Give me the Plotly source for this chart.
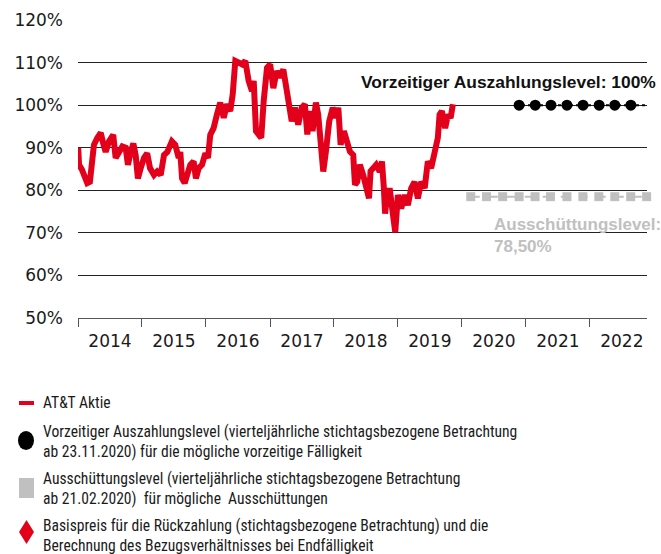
import plotly.graph_objects as go

# ---------------- data ----------------
stock_dates = [
    "2014-01-02", "2014-01-07", "2014-01-24", "2014-02-14", "2014-02-23", "2014-03-10", "2014-03-24",
    "2014-04-02", "2014-04-21", "2014-05-11", "2014-05-25", "2014-06-08", "2014-06-27", "2014-07-21",
    "2014-08-04", "2014-08-23", "2014-09-11", "2014-09-30", "2014-10-13", "2014-10-29", "2014-11-13",
    "2014-11-26", "2014-12-09", "2014-12-25", "2015-01-13", "2015-01-31", "2015-02-16", "2015-03-11",
    "2015-03-29", "2015-04-18", "2015-05-07", "2015-05-26", "2015-06-21", "2015-07-10", "2015-07-30",
    "2015-08-08", "2015-08-18", "2015-09-02", "2015-09-15", "2015-10-04", "2015-10-23", "2015-11-05",
    "2015-11-21", "2015-12-10", "2015-12-29", "2016-01-13", "2016-01-26", "2016-02-14", "2016-03-04",
    "2016-03-23", "2016-04-12", "2016-04-30", "2016-05-19", "2016-06-02", "2016-06-17", "2016-07-06",
    "2016-07-25", "2016-08-13", "2016-09-01", "2016-09-20", "2016-09-30", "2016-10-13", "2016-11-01",
    "2016-11-12", "2016-11-26", "2016-12-15", "2017-01-02", "2017-01-20", "2017-02-08", "2017-02-27",
    "2017-03-18", "2017-04-06", "2017-04-25", "2017-05-05", "2017-05-23", "2017-06-11", "2017-07-01",
    "2017-07-19", "2017-08-02", "2017-08-17", "2017-09-01", "2017-09-20", "2017-10-03", "2017-10-17",
    "2017-11-01", "2017-11-16", "2017-12-05", "2017-12-25", "2018-01-12", "2018-01-26", "2018-02-08",
    "2018-02-27", "2018-03-18", "2018-04-02", "2018-04-21", "2018-05-01", "2018-05-14", "2018-05-29",
    "2018-06-17", "2018-07-07", "2018-07-20", "2018-07-29", "2018-08-12", "2018-08-30", "2018-09-19",
    "2018-10-02", "2018-10-13", "2018-10-20", "2018-10-27", "2018-11-15", "2018-12-04", "2018-12-17",
    "2019-01-01", "2019-01-20", "2019-02-08", "2019-02-27", "2019-03-18", "2019-04-06", "2019-04-25",
    "2019-05-14", "2019-06-03", "2019-06-21", "2019-07-10", "2019-07-29", "2019-08-17", "2019-08-27",
    "2019-09-09", "2019-09-28", "2019-10-14", "2019-10-29", "2019-11-11",
]
stock_values = [
    90.0, 86.0, 84.8, 82.5, 81.7, 82.0, 87.6,
    90.7, 92.3, 93.5, 91.0, 89.0, 91.5, 93.0,
    87.6, 89.0, 90.3, 90.0, 86.0, 89.0, 91.0,
    88.3, 82.8, 85.2, 87.6, 88.7, 85.2, 83.6,
    84.4, 83.6, 88.3, 89.0, 91.5, 90.7, 87.6,
    89.0, 82.8, 81.7, 83.6, 86.0, 86.8, 82.8,
    85.2, 86.0, 88.7, 87.6, 93.0, 94.6, 97.8,
    100.6, 97.0, 100.2, 98.6, 102.5, 110.4, 110.0,
    109.6, 110.4, 105.7, 103.3, 105.7, 93.9, 93.1,
    92.3, 101.0, 108.8, 109.6, 104.0, 108.0, 106.5,
    108.4, 103.3, 100.2, 96.2, 99.4, 95.4, 99.4,
    100.2, 93.1, 98.6, 93.9, 100.6, 97.8, 89.9,
    84.4, 89.1, 96.2, 99.4, 97.0, 99.4, 90.7,
    93.9, 91.5, 89.1, 88.3, 81.3, 82.0, 86.0,
    83.6, 79.7, 78.1, 84.5, 85.2, 86.0, 84.4,
    86.8, 80.5, 74.5, 77.3, 80.5, 74.2, 70.2,
    78.9, 75.7, 78.9, 76.5, 80.5, 82.0, 78.1,
    82.0, 80.5, 86.8, 85.2, 88.3, 92.3, 97.8,
    98.6, 94.6, 97.8, 97.0, 100.2,
]

early_dates = ["2020-11-23", "2021-02-23", "2021-05-24", "2021-08-23",
               "2021-11-23", "2022-02-23", "2022-05-23", "2022-08-23"]
early_level = 100.0

coupon_dates = ["2020-02-21", "2020-05-21", "2020-08-21", "2020-11-23",
                "2021-02-22", "2021-05-21", "2021-08-23", "2021-11-22",
                "2022-02-21", "2022-05-23", "2022-08-22", "2022-11-21"]
coupon_level = 78.5

final_date = "2022-11-28"
strike_level = 78.5

y_ticks = [50, 60, 70, 80, 90, 100, 110, 120]
y_labels = ["50%", "60%", "70%", "80%", "90%", "100%", "110%", "120%"]

legend_texts = [
    "AT&T Aktie",
    "Vorzeitiger Auszahlungslevel (vierteljährliche stichtagsbezogene Betrachtung<br>ab 23.11.2020) für die mögliche vorzeitige Fälligkeit",
    "Ausschüttungslevel (vierteljährliche stichtagsbezogene Betrachtung<br>ab 21.02.2020)  für mögliche  Ausschüttungen",
    "Basispreis für die Rückzahlung (stichtagsbezogene Betrachtung) und die<br>Berechnung des Bezugsverhältnisses bei Endfälligkeit",
]

# ---------------- style ----------------
RED = "#e3001b"
GREY = "#c0c0c0"
TICK_FONT = dict(family="DejaVu Sans", size=17, color="#1a1a1a")
LEG_FONT = dict(family="Liberation Sans Narrow, Roboto Condensed, DejaVu Sans Condensed, Roboto, sans-serif",
                size=15.6, color="#1a1a1a")
BOLD_FONT = "Liberation Sans, Arial, sans-serif"

W, H = 661, 554
L, R, T, B = 78, 14, 20, 236
PW, PH = W - L - R, H - T - B


def px(x):
    return (x - L) / PW


def py(y):
    return (H - B - y) / PH


fig = go.Figure()

fig.add_trace(go.Scatter(
    x=stock_dates, y=stock_values, mode="lines",
    line=dict(color=RED, width=6), showlegend=False, hoverinfo="skip"))

# coupon level: grey dashed line with squares
fig.add_trace(go.Scatter(
    x=coupon_dates + [final_date], y=[coupon_level] * (len(coupon_dates) + 1), mode="lines",
    line=dict(color=GREY, width=2, dash="dash"), showlegend=False, cliponaxis=False))
fig.add_trace(go.Scatter(
    x=coupon_dates, y=[coupon_level] * len(coupon_dates), mode="markers",
    marker=dict(symbol="square", size=9, color=GREY), showlegend=False, cliponaxis=False))

# early redemption level: black dotted line with dots
fig.add_trace(go.Scatter(
    x=["2020-11-05"] + early_dates + [final_date], y=[early_level] * (len(early_dates) + 2), mode="lines",
    line=dict(color="black", width=2, dash="dot"), showlegend=False, cliponaxis=False))
fig.add_trace(go.Scatter(
    x=early_dates, y=[early_level] * len(early_dates), mode="markers",
    marker=dict(symbol="circle", size=11, color="black"), showlegend=False, cliponaxis=False))

# strike diamond
fig.add_trace(go.Scatter(
    x=[final_date], y=[strike_level], mode="markers",
    marker=dict(symbol="diamond", size=14, color=RED), showlegend=False, cliponaxis=False))

annotations = [
    dict(text="<b>Vorzeitiger Auszahlungslevel: 100%</b>", xref="paper", yref="paper",
         x=px(658), y=py(82), xanchor="right", yanchor="middle", showarrow=False,
         font=dict(family=BOLD_FONT, size=17.4, color="#111")),
    dict(text="<b>Ausschüttungslevel:<br>78,50%</b>", xref="paper", yref="paper",
         x=px(492), y=py(213), xanchor="left", yanchor="top", align="left", showarrow=False,
         font=dict(family=BOLD_FONT, size=17, color=GREY)),
]

shapes = []
# legend
leg_y = [403, 442, 489, 536]
for i, t in enumerate(legend_texts):
    annotations.append(dict(text=t, xref="paper", yref="paper", x=px(41), y=py(leg_y[i]),
                            xanchor="left", yanchor="middle", align="left", showarrow=False,
                            font=LEG_FONT))
shapes.append(dict(type="line", xref="paper", yref="paper", x0=px(19), x1=px(34), y0=py(403), y1=py(403),
                   line=dict(color=RED, width=4)))
shapes.append(dict(type="circle", xref="paper", yref="paper", x0=px(18), x1=px(34), y0=py(431), y1=py(450),
                   fillcolor="black", line=dict(width=0)))
shapes.append(dict(type="rect", xref="paper", yref="paper", x0=px(19), x1=px(34), y0=py(478), y1=py(498),
                   fillcolor=GREY, line=dict(width=0)))
cx, cy = px(26.5), py(532)
dx, dy = 7.5 / PW, 12 / PH
shapes.append(dict(type="path", xref="paper", yref="paper",
                   path=f"M {cx - dx} {cy} L {cx} {cy + dy} L {cx + dx} {cy} L {cx} {cy - dy} Z",
                   fillcolor=RED, line=dict(width=0)))

fig.update_layout(
    width=W, height=H, margin=dict(l=L, r=R, t=T, b=B, autoexpand=False),
    paper_bgcolor="white", plot_bgcolor="white",
    annotations=annotations, shapes=shapes, showlegend=False,
    xaxis=dict(type="date", range=["2014-01-01", "2022-11-23"], dtick="M12", tick0="2014-01-01",
               ticklabelmode="period", tickformat="%Y", showgrid=False, zeroline=False,
               showline=True, linecolor="#555", linewidth=1, ticks="outside", ticklen=8,
               tickcolor="#555", tickfont=TICK_FONT, automargin=False),
    yaxis=dict(range=[50, 120], tickvals=y_ticks, ticktext=y_labels, showgrid=True,
               gridcolor="#222", gridwidth=1, zeroline=False, showline=False,
               tickfont=TICK_FONT, ticklabelstandoff=14, automargin=False),
)

fig.write_html("out.html", config={"displayModeBar": False},
               post_script="document.body.style.margin='0px';")
